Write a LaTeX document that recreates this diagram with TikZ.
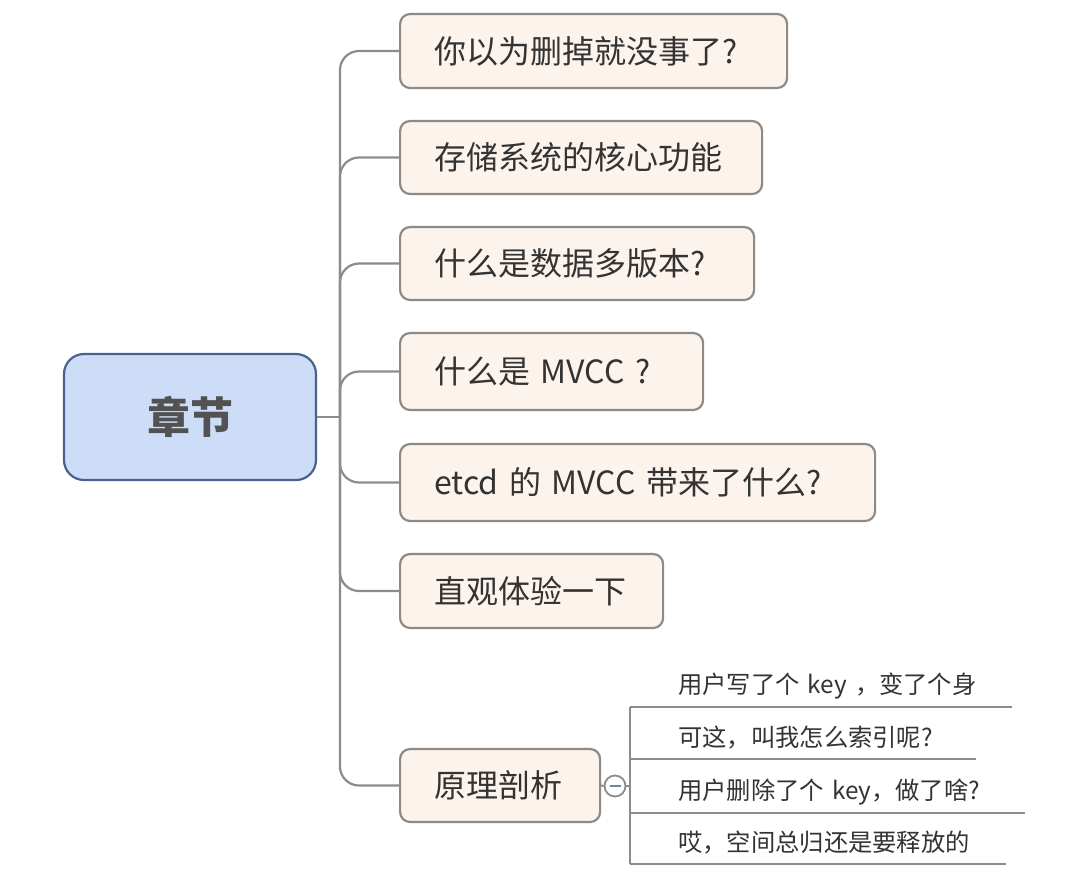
\documentclass[tikz,border=0pt]{standalone}
\usepackage{fontspec}
\setmainfont{Noto Sans CJK SC}
\newfontfamily\cjk{Noto Sans CJK SC}
\definecolor{rootfill}{HTML}{CDDDF8}
\definecolor{rootdraw}{HTML}{4A6190}
\definecolor{brfill}{HTML}{FCF3ED}
\definecolor{brdraw}{HTML}{8F8A85}
\definecolor{conn}{HTML}{8C8C8C}
\definecolor{txt}{HTML}{333333}
\definecolor{btnminus}{HTML}{7082B0}
\begin{document}
\begin{tikzpicture}[x=1pt,y=-1pt,
  rootbox/.style={draw=rootdraw, fill=rootfill, line width=2.2pt, rounded corners=20pt,
    minimum width=252pt, minimum height=126pt, inner sep=0pt,
    font=\cjk\bfseries\fontsize{43}{48}\selectfont, text=txt!85},
  brbox/.style={draw=brdraw, fill=brfill, line width=2.2pt, rounded corners=10pt,
    anchor=west, inner xsep=34pt, inner ysep=0pt, align=left,
    font=\cjk\fontsize{32}{38}\selectfont, text=txt},
  leafbox/.style={anchor=south west, inner sep=0pt, minimum height=42pt, align=left,
    font=\cjk\fontsize{24.3}{28}\selectfont, text=txt},
  connline/.style={draw=conn, line width=2.2pt},
  leafline/.style={draw=conn, line width=2.2pt},
]
\useasboundingbox (0,0) rectangle (1080,876);
\fill[white] (0,0) rectangle (1080,876);

\node[rootbox] (root) at (190,417) {章节};

\node[brbox, text width=319pt, minimum height=74pt] (b1) at (399,51) {你以为删掉就没事了?};
\node[brbox, text width=294pt, minimum height=73pt] (b2) at (399,157.5) {存储系统的核心功能};
\node[brbox, text width=286pt, minimum height=73pt] (b3) at (399,263.5) {什么是数据多版本?};
\node[brbox, text width=235pt, minimum height=77pt] (b4) at (399,371.5) {什么是 MVCC ?};
\node[brbox, text width=407pt, minimum height=77pt] (b5) at (399,482.5) {etcd 的 MVCC 带来了什么?};
\node[brbox, text width=195pt, minimum height=74pt] (b6) at (399,591) {直观体验一下};
\node[brbox, text width=132pt, minimum height=73pt] (b7) at (399,785.5) {原理剖析};

\coordinate (j) at (340,417);
\draw[connline] (root.east) -- (j);
\foreach \b in {b1,b2,b3,b4,b5,b6,b7}{
  \draw[connline, rounded corners=19pt] (j) |- (\b.west);
}

\node[circle, draw=conn, line width=1.8pt, fill=white, minimum size=21pt, inner sep=0pt] (btn) at (615,786) {};
\draw[btnminus, line width=1.8pt] ([xshift=-5.5pt]btn.center) -- ([xshift=5.5pt]btn.center);
\draw[connline] (b7.east) -- (btn.west);

\node[leafbox, text width=382pt] (l1) at (630,707) {\hspace*{48pt}用户写了个 key ，变了个身};
\node[leafbox, text width=346pt] (l2) at (630,759) {\hspace*{48pt}可这，叫我怎么索引呢?};
\node[leafbox, text width=395pt] (l3) at (630,813) {\hspace*{48pt}用户删除了个 key，做了啥?};
\node[leafbox, text width=376pt] (l4) at (630,864) {\hspace*{48pt}哎，空间总归还是要释放的};

\foreach \l in {l1,l2,l3,l4}{
  \draw[leafline] (\l.south west) -- (\l.south east);
}
\draw[leafline] (l1.south west) -- (l4.south west);
\coordinate (lj) at (630,786);
\draw[connline] (btn.east) -- (lj);
\end{tikzpicture}
\end{document}
